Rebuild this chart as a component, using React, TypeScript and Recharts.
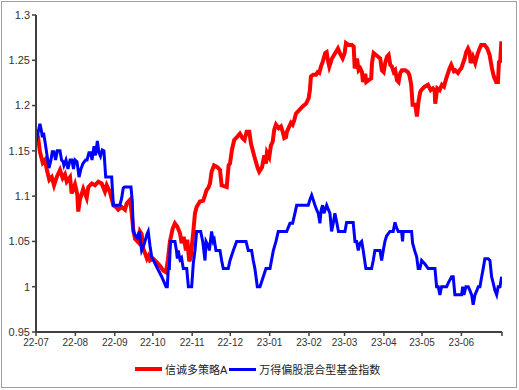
import { Line, LineChart, XAxis, YAxis } from 'recharts'

// x = days since 2022-07-01
const monthTicks = [0, 31, 62, 92, 123, 153, 184, 215, 243, 274, 304, 335, 367]
const monthLabels = ['22-07', '22-08', '22-09', '22-10', '22-11', '22-12', '23-01', '23-02', '23-03', '23-04', '23-05', '23-06', '']
const yTicks = [0.95, 1, 1.05, 1.1, 1.15, 1.2, 1.25, 1.3]

const seriesNames = ['信诚多策略A', '万得偏股混合型基金指数']
const seriesColors = ['#ff0000', '#0000ff']

const fundDays = [
  0.6, 1.6, 3.1, 5.3, 7.1, 8.4, 10.5, 12.4, 14.2, 16.3,
  18.9, 21.0, 22.8, 24.2, 26.8, 28.1, 30.7, 32.5, 33.3, 34.6,
  37.2, 39.9, 41.2, 43.9, 46.5, 49.1, 51.7, 54.3, 55.7, 58.3,
  60.9, 63.0, 64.8, 67.5, 70.1, 71.4, 74.0, 75.4, 76.6, 78.0,
  80.6, 81.9, 83.2, 84.5, 86.4, 87.4, 88.6, 89.8, 92.1, 95.0,
  97.6, 100.2, 102.4, 103.9, 105.5, 107.6, 109.4, 111.4, 113.4, 114.7,
  116.3, 118.1, 119.1, 120.7, 121.8, 123.9, 125.2, 126.5, 129.1, 131.7,
  133.1, 134.4, 135.7, 137.0, 138.3, 140.2, 142.8, 144.9, 146.2, 150.2,
  151.7, 152.8, 154.3, 156.1, 158.8, 160.6, 162.7, 164.2, 165.9, 168.0,
  169.3, 171.9, 174.6, 175.8, 178.0, 179.8, 181.1, 181.9, 183.7, 185.0,
  186.4, 187.6, 189.0, 191.1, 192.9, 194.3, 195.5, 196.9, 197.6, 199.5,
  200.8, 202.1, 203.4, 204.7, 207.3, 210.0, 212.6, 214.7, 215.7, 216.5,
  218.3, 220.5, 221.8, 223.1, 224.4, 225.7, 227.8, 228.9, 229.9, 231.0,
  233.1, 235.7, 237.8, 239.6, 241.5, 243.1, 244.1, 246.2, 248.8, 250.2,
  251.0, 252.8, 254.1, 255.4, 256.7, 257.5, 259.3, 260.1, 262.0, 264.0,
  264.6, 265.9, 268.5, 271.1, 272.4, 273.8, 275.0, 276.4, 277.7, 279.0,
  280.3, 281.7, 282.9, 284.3, 285.6, 286.9, 288.2, 290.8, 292.9, 294.0,
  295.5, 296.6, 298.7, 300.0, 301.3, 302.6, 303.4, 306.1, 308.7, 310.8,
  312.6, 314.0, 314.4, 316.0, 317.9, 319.7, 321.3, 323.1, 325.7, 327.0,
  329.1, 330.2, 332.3, 333.6, 334.9, 337.6, 338.8, 340.2, 341.5, 342.3,
  344.1, 345.9, 348.0, 349.4, 350.6, 353.3, 355.4, 357.2, 359.1, 360.6,
  362.4, 363.8, 364.6, 365.6, 366.5,
]
const fundNav = [
  1.170, 1.165, 1.149, 1.137, 1.140, 1.130, 1.118, 1.121, 1.112, 1.121,
  1.129, 1.120, 1.124, 1.116, 1.121, 1.103, 1.113, 1.102, 1.083, 1.096,
  1.108, 1.098, 1.110, 1.114, 1.112, 1.116, 1.114, 1.105, 1.112, 1.104,
  1.090, 1.088, 1.085, 1.088, 1.085, 1.092, 1.096, 1.081, 1.063, 1.053,
  1.049, 1.061, 1.058, 1.042, 1.035, 1.031, 1.034, 1.029, 1.031, 1.027,
  1.023, 1.018, 1.016, 1.030, 1.050, 1.064, 1.070, 1.066, 1.059, 1.048,
  1.055, 1.040, 1.052, 1.028, 1.032, 1.061, 1.081, 1.088, 1.094, 1.095,
  1.101, 1.107, 1.109, 1.114, 1.127, 1.134, 1.132, 1.129, 1.112, 1.110,
  1.134, 1.136, 1.151, 1.162, 1.166, 1.169, 1.164, 1.162, 1.171, 1.171,
  1.158, 1.144, 1.131, 1.127, 1.132, 1.145, 1.136, 1.148, 1.143, 1.156,
  1.160, 1.173, 1.179, 1.175, 1.177, 1.171, 1.164, 1.165, 1.171, 1.177,
  1.181, 1.179, 1.184, 1.191, 1.195, 1.199, 1.202, 1.208, 1.217, 1.232,
  1.234, 1.234, 1.237, 1.236, 1.243, 1.248, 1.258, 1.259, 1.250, 1.243,
  1.252, 1.258, 1.263, 1.257, 1.252, 1.258, 1.269, 1.267, 1.267, 1.265,
  1.241, 1.252, 1.239, 1.241, 1.237, 1.226, 1.235, 1.226, 1.228, 1.230,
  1.247, 1.258, 1.255, 1.252, 1.239, 1.237, 1.247, 1.254, 1.256, 1.245,
  1.243, 1.237, 1.239, 1.228, 1.226, 1.236, 1.239, 1.239, 1.237, 1.234,
  1.223, 1.201, 1.201, 1.188, 1.205, 1.215, 1.217, 1.221, 1.223, 1.217,
  1.219, 1.216, 1.202, 1.219, 1.217, 1.223, 1.221, 1.230, 1.241, 1.245,
  1.238, 1.239, 1.236, 1.239, 1.241, 1.252, 1.259, 1.263, 1.259, 1.247,
  1.254, 1.247, 1.258, 1.263, 1.267, 1.267, 1.263, 1.256, 1.241, 1.232,
  1.226, 1.226, 1.248, 1.249, 1.271,
]

const indexDays = [
  0, 1.6, 3.1, 4.3, 5.0, 5.9, 7.1, 8.7, 10.2, 11.8,
  12.8, 14.2, 15.4, 16.8, 18.9, 20.1, 21.3, 22.0, 23.6, 25.2,
  26.8, 28.3, 29.5, 30.7, 32.3, 33.9, 35.4, 37.0, 39.1, 40.2,
  41.7, 42.9, 44.1, 45.7, 46.9, 48.3, 49.6, 50.8, 52.2, 53.5,
  54.9, 59.6, 60.9, 66.1, 67.5, 68.7, 69.7, 74.8, 75.8, 76.6,
  78.0, 79.8, 80.6, 81.3, 83.2, 85.0, 87.2, 88.4, 89.8, 91.1,
  95.0, 99.0, 102.4, 103.4, 104.2, 105.0, 105.9, 109.4, 110.6, 111.3,
  112.0, 113.4, 114.6, 116.0, 118.7, 120.0, 122.6, 123.9, 125.2, 126.5,
  129.7, 131.3, 133.1, 133.9, 135.7, 136.5, 138.3, 139.6, 140.4, 141.7,
  144.9, 146.2, 147.5, 151.4, 152.8, 155.4, 158.0, 165.4, 167.2, 169.8,
  171.1, 172.4, 174.3, 176.4, 179.0, 181.1, 184.3, 186.9, 189.0, 190.8,
  197.4, 200.0, 202.1, 203.9, 205.3, 214.4, 215.7, 217.1, 218.3, 219.7,
  221.0, 222.3, 223.6, 224.6, 225.7, 226.8, 228.9, 231.5, 232.8, 234.1,
  235.4, 237.0, 238.2, 243.3, 244.6, 245.9, 249.8, 251.2, 252.5, 253.8,
  255.1, 256.5, 257.7, 259.8, 264.3, 265.6, 266.9, 270.9, 272.2, 273.5,
  274.8, 276.1, 278.7, 281.3, 282.7, 284.0, 285.3, 287.9, 288.7, 289.2,
  295.8, 296.6, 298.4, 299.8, 301.0, 302.4, 303.7, 306.3, 308.9, 314.2,
  315.5, 316.8, 318.1, 319.4, 323.4, 324.6, 327.3, 328.6, 329.9, 335.2,
  336.0, 337.0, 338.6, 340.4, 341.7, 343.1, 344.3, 345.7, 347.0, 348.3,
  349.6, 351.0, 352.2, 353.5, 356.1, 357.5, 358.8, 360.1, 361.4, 362.8,
  364.0, 365.4, 366.7,
]
const indexNav = [
  1.160, 1.170, 1.180, 1.172, 1.165, 1.170, 1.160, 1.145, 1.131, 1.140,
  1.149, 1.149, 1.140, 1.150, 1.150, 1.140, 1.138, 1.134, 1.140, 1.130,
  1.140, 1.140, 1.130, 1.140, 1.138, 1.121, 1.130, 1.136, 1.140, 1.140,
  1.148, 1.148, 1.140, 1.155, 1.145, 1.161, 1.148, 1.144, 1.151, 1.150,
  1.121, 1.121, 1.090, 1.090, 1.098, 1.109, 1.110, 1.110, 1.095, 1.061,
  1.057, 1.054, 1.058, 1.061, 1.040, 1.046, 1.057, 1.061, 1.045, 1.033,
  1.022, 1.011, 1.000, 1.000, 1.020, 1.020, 1.050, 1.050, 1.040, 1.031,
  1.040, 1.030, 1.032, 1.020, 1.020, 1.000, 1.000, 1.026, 1.040, 1.061,
  1.061, 1.050, 1.029, 1.050, 1.045, 1.040, 1.061, 1.050, 1.052, 1.040,
  1.040, 1.029, 1.020, 1.020, 1.029, 1.040, 1.050, 1.050, 1.040, 1.040,
  1.029, 1.020, 1.000, 1.000, 1.011, 1.020, 1.020, 1.040, 1.050, 1.061,
  1.061, 1.070, 1.070, 1.081, 1.090, 1.090, 1.096, 1.101, 1.096, 1.090,
  1.085, 1.081, 1.070, 1.085, 1.090, 1.081, 1.090, 1.081, 1.061, 1.070,
  1.081, 1.070, 1.061, 1.061, 1.071, 1.071, 1.071, 1.050, 1.050, 1.040,
  1.048, 1.050, 1.040, 1.020, 1.020, 1.029, 1.040, 1.040, 1.029, 1.040,
  1.050, 1.056, 1.061, 1.061, 1.071, 1.065, 1.061, 1.061, 1.050, 1.061,
  1.061, 1.048, 1.039, 1.033, 1.020, 1.020, 1.029, 1.025, 1.020, 1.020,
  1.000, 1.000, 0.991, 1.000, 1.000, 1.004, 1.011, 1.011, 0.991, 0.991,
  1.000, 0.991, 1.000, 1.000, 0.996, 0.991, 0.980, 0.991, 0.995, 1.000,
  1.000, 1.011, 1.020, 1.031, 1.031, 1.029, 1.011, 1.004, 0.996, 0.991,
  1.000, 1.000, 1.011,
]

const fundData = fundDays.map((day, i) => ({ day, value: fundNav[i] }))
const indexData = indexDays.map((day, i) => ({ day, value: indexNav[i] }))

const axisColor = '#404040'
const font = '"Liberation Sans", Arial, "Noto Sans CJK SC", sans-serif'

export default function App() {
  return (
    <div style={{ position: 'absolute', left: 0, top: 0, width: 519, height: 390, background: '#fff', fontFamily: font }}>
      <div style={{ position: 'absolute', left: 1, top: 1, width: 516, height: 387, border: '1px solid #a0a0a0', boxSizing: 'border-box' }} />
      <div style={{ position: 'absolute', left: 0, top: 0 }}>
        <LineChart width={519} height={390} margin={{ top: 15, right: 17, bottom: 28, left: 0 }}>
          <XAxis
            dataKey="day"
            type="number"
            domain={[0, 367]}
            ticks={monthTicks}
            tickFormatter={(v: number) => monthLabels[monthTicks.indexOf(v)] ?? ''}
            allowDataOverflow
            height={30}
            stroke={axisColor}
            axisLine={{ stroke: axisColor, strokeWidth: 2 }}
            tickLine={{ stroke: axisColor, strokeWidth: 1.5 }}
            tickSize={4}
            tickMargin={3}
            tick={{ fill: '#333', fontSize: 10, fontFamily: font }}
          />
          <YAxis
            type="number"
            domain={[0.95, 1.3]}
            ticks={yTicks}
            allowDataOverflow
            width={36}
            stroke={axisColor}
            axisLine={{ stroke: axisColor, strokeWidth: 2 }}
            tickLine={{ stroke: axisColor, strokeWidth: 1.5 }}
            tickSize={4}
            tickMargin={2}
            tick={{ fill: '#333', fontSize: 11, fontFamily: font }}
          />
          <Line data={fundData} dataKey="value" name={seriesNames[0]} type="linear" stroke={seriesColors[0]} strokeWidth={4} dot={false} isAnimationActive={false} />
          <Line data={indexData} dataKey="value" name={seriesNames[1]} type="linear" stroke={seriesColors[1]} strokeWidth={3} dot={false} isAnimationActive={false} />
        </LineChart>
      </div>
      {/* legend */}
      <div style={{ position: 'absolute', left: 135, top: 361, display: 'flex', alignItems: 'center', fontSize: 11, color: '#222', whiteSpace: 'nowrap' }}>
        {seriesNames.map((n, i) => (
          <div key={n} style={{ display: 'flex', alignItems: 'center', marginRight: 2 }}>
            <span style={{ display: 'inline-block', width: 27, height: i === 0 ? 4 : 3, background: seriesColors[i], marginRight: 3 }} />
            <span>{n}</span>
          </div>
        ))}
      </div>
    </div>
  )
}
